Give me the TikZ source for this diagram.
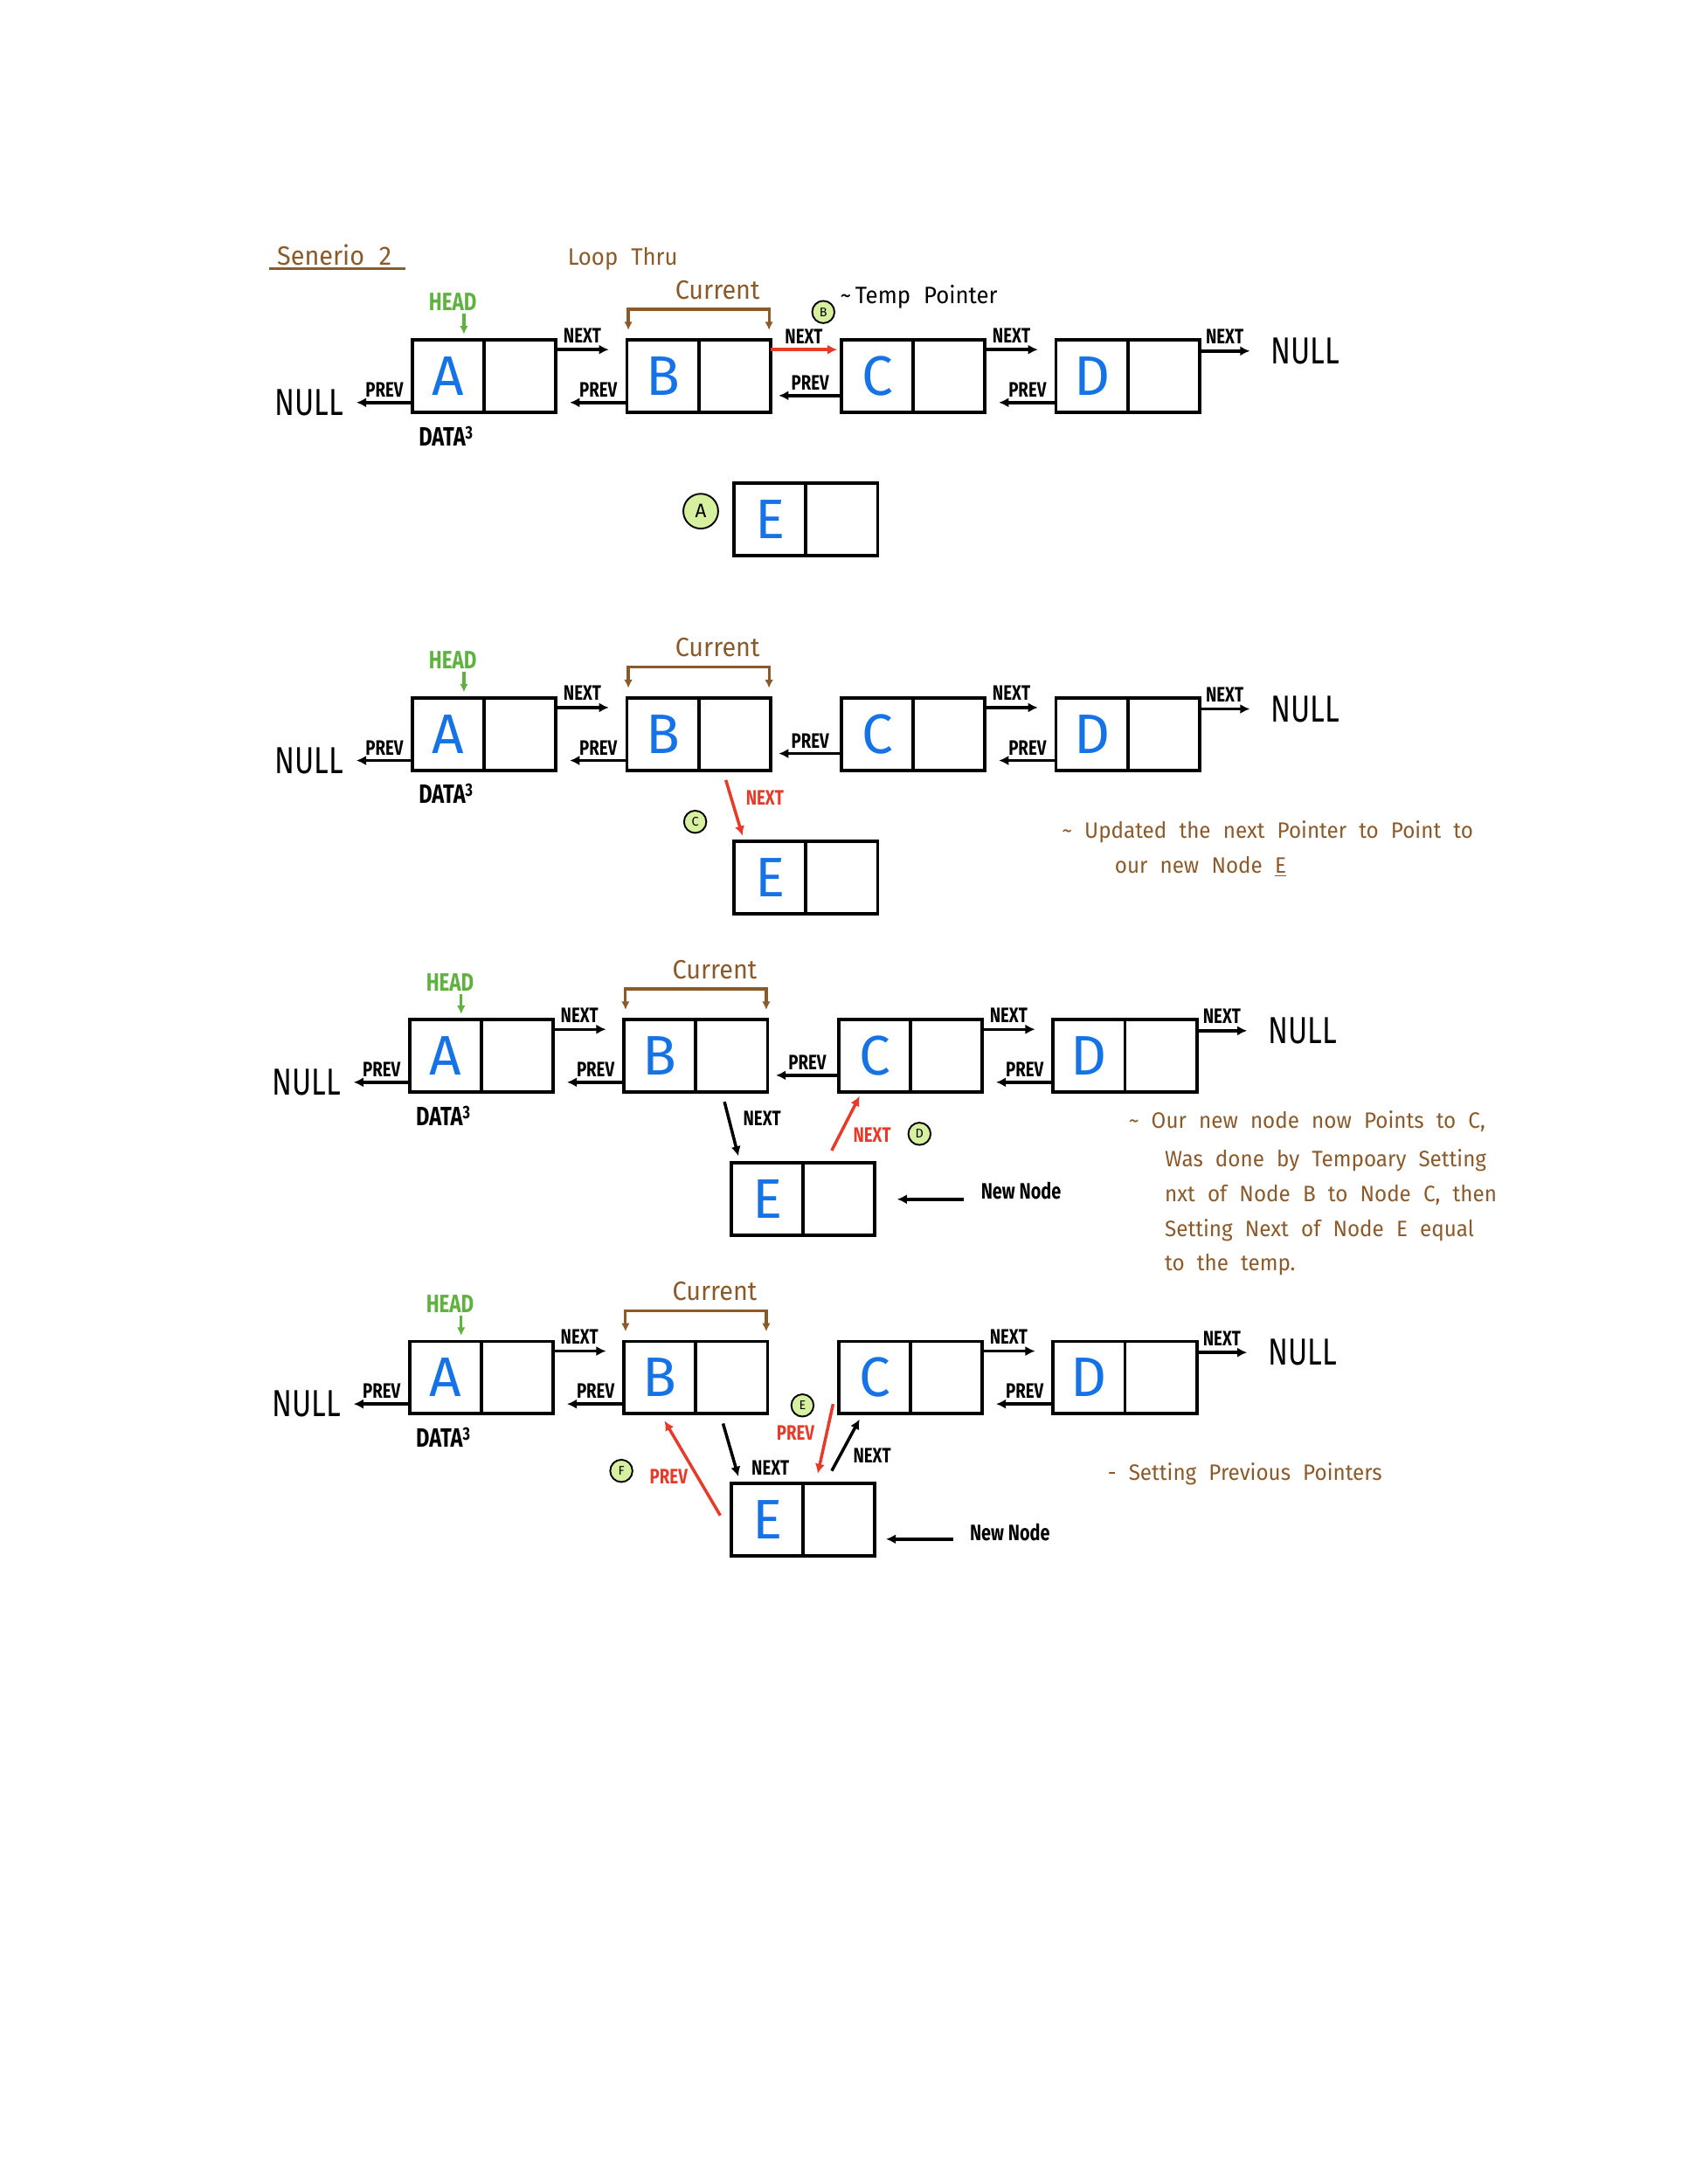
\documentclass[tikz,border=0pt]{standalone}
\usepackage{fontspec}
\setmainfont{Fira Sans}
\newfontfamily\labfont[FakeStretch=0.78]{Fira Sans}
\newfontfamily\handfont[FakeStretch=0.95,WordSpace=2.2]{Fira Sans}
\usetikzlibrary{arrows.meta}
\definecolor{brownink}{RGB}{139,90,43}
\definecolor{greenink}{RGB}{96,178,64}
\definecolor{blueink}{RGB}{22,115,230}
\definecolor{redink}{RGB}{232,58,40}
\definecolor{badge}{RGB}{214,240,160}
\tikzset{
 dcell/.style={draw, line width=2.4pt, minimum width=51.5pt, minimum height=52pt, outer sep=0pt, inner sep=0pt, anchor=north west, font=\fontsize{40}{40}\selectfont, text=blueink},
 pcell/.style={draw, line width=2.4pt, minimum width=51.5pt, minimum height=52pt, outer sep=0pt, inner sep=0pt, anchor=west},
 ptr/.style={line width=2.2pt, -{Latex[length=7pt,width=7pt]}},
 redptr/.style={ptr, draw=redink},
 lab/.style={font=\labfont\bfseries\fontsize{15}{15}\selectfont, inner sep=0pt},
 redlab/.style={lab, text=redink},
 nulltxt/.style={font=\labfont\fontsize{27}{27}\selectfont, inner sep=0pt},
 headlab/.style={font=\labfont\bfseries\fontsize{18}{18}\selectfont, text=greenink, inner sep=0pt},
 note/.style={font=\handfont\fontsize{16}{25}\selectfont, text=brownink, align=left, anchor=west, inner sep=0pt},
 brownlab/.style={font=\handfont\fontsize{19}{19}\selectfont, text=brownink, inner sep=0pt},
 badgecirc/.style={circle, draw, line width=1.2pt, fill=badge, minimum size=16pt, inner sep=0pt, font=\fontsize{9}{9}\selectfont},
 bracket/.style={draw=brownink, line width=2pt, {Latex[length=6pt,width=6pt]}-{Latex[length=6pt,width=6pt]}},
 headarr/.style={draw=greenink, line width=2pt, -{Latex[length=6pt,width=6pt]}},
 newlab/.style={lab, anchor=west, font=\labfont\bfseries\fontsize{16}{16}\selectfont}
}
\begin{document}
\begin{tikzpicture}[x=1pt,y=-1pt]
\useasboundingbox[fill=white] (0,0) rectangle (1212,1568);

% title
\node[brownlab] (title) at (240,183) {Senerio 2};
\draw[brownink, line width=2pt] (193,193) -- (291,193);
\node[brownlab, font=\handfont\fontsize{17}{17}\selectfont] (loop) at (447,186) {Loop Thru};

\foreach \r/\t/\dx in {1/244/0, 2/501/0, 3/732/-2, 4/963/-2} {
  \node[dcell] (A\r) at (296+\dx,\t) {A};
  \node[pcell] (An\r) at (A\r.east) {};
  \node[dcell] (B\r) at (450+\dx,\t) {B};
  \node[pcell] (Bn\r) at (B\r.east) {};
  \node[dcell] (C\r) at (604+\dx,\t) {C};
  \node[pcell] (Cn\r) at (C\r.east) {};
  \node[dcell] (D\r) at (758+\dx,\t) {D};
  \node[pcell] (Dn\r) at (D\r.east) {};
  \node[nulltxt] (nullL\r) at (222+\dx,\t+45) {NULL};
  \node[nulltxt] (nullR\r) at (937+\dx,\t+8) {NULL};
  % NEXT pointers
  \draw[ptr] ([shift={(0,7)}]An\r.north east) -- ([shift={(-13,7)}]B\r.north west) node[lab, midway, above=4pt] {NEXT};
  \draw[ptr] ([shift={(0,7)}]Cn\r.north east) -- ([shift={(-13,7)}]D\r.north west) node[lab, midway, above=4pt] {NEXT};
  \draw[ptr] ([shift={(0,8)}]Dn\r.north east) -- ([xshift=-15pt]nullR\r.west) node[lab, midway, above=4pt] {NEXT};
  % PREV pointers
  \draw[ptr] ([shift={(0,45)}]A\r.north west) -- ([xshift=9pt]nullL\r.east) node[lab, midway, above=3pt] {PREV};
  \draw[ptr] ([shift={(0,45)}]B\r.north west) -- ([shift={(10,45)}]An\r.north east) node[lab, midway, above=3pt] {PREV};
  \draw[ptr] ([shift={(0,45)}]D\r.north west) -- ([shift={(10,45)}]Cn\r.north east) node[lab, midway, above=3pt] {PREV};
  % HEAD
  \node[headlab] (head\r) at (325+\dx,\t-27) {HEAD};
  \draw[headarr] ([xshift=8pt,yshift=-2pt]head\r.south) -- ([shift={(37,-4)}]A\r.north west);
  % Current
  \node[brownlab] (cur\r) at (515+\dx,\t-36) {Current};
  \draw[bracket] ([shift={(1,-7)}]B\r.north west) -- ([shift={(1,-22)}]B\r.north west) -- ([shift={(-1,-22)}]Bn\r.north east) -- ([shift={(-1,-7)}]Bn\r.north east);
  % DATA
  \node[lab, font=\labfont\bfseries\fontsize{19}{19}\selectfont] (data\r) at (320+\dx,\t+69) {DATA\raisebox{5pt}{\fontsize{13}{13}\selectfont 3}};
}
% C prev pointers in rows 1-3
\foreach \r in {1,2,3} {
  \draw[ptr] ([shift={(0,40)}]C\r.north west) -- ([shift={(6,40)}]Bn\r.north east) node[lab, midway, above=3pt] {PREV};
}

% ---------- Row 1 ----------
\draw[redptr] ([shift={(0,7)}]Bn1.north east) -- ([shift={(-3,7)}]C1.north west) node[lab, midway, above=3pt] {NEXT};
\node[badgecirc] (b1) at (591,224) {B};
\node[anchor=west, inner sep=0pt, font=\handfont\fontsize{17}{17}\selectfont] (temp) at (603,213) {\textasciitilde{}\,Temp Pointer};
\node[dcell] (E1) at (527,347) {E};
\node[pcell] (En1) at (E1.east) {};
\node[badgecirc, minimum size=25pt, font=\fontsize{14}{14}\selectfont] (a1) at (503,367) {A};

% ---------- Row 2 ----------
\node[dcell] (E2) at (527,604) {E};
\node[pcell] (En2) at (E2.east) {};
\draw[redptr] ([shift={(19.5,7)}]Bn2.south west) -- ([shift={(6,-4)}]E2.north west);
\node[redlab] (n2) at (549,573) {NEXT};
\node[badgecirc] (c2) at (499,590) {C};
\node[note] (note2) at (762,597) {\textasciitilde{} Updated the next Pointer to Point to};
\node[note] (note2b) at (800,622) {our new Node \underline{E}};

% ---------- Row 3 ----------
\node[dcell] (E3) at (525,835) {E};
\node[pcell] (En3) at (E3.east) {};
\draw[ptr] ([shift={(20.5,7)}]Bn3.south west) -- ([shift={(5,-5)}]E3.north west);
\node[lab] (n3a) at (547,803) {NEXT};
\draw[redptr] ([shift={(20.5,-9)}]En3.north west) -- ([shift={(15,3)}]C3.south west);
\node[redlab] (n3b) at (626,815) {NEXT};
\node[badgecirc] (d3) at (660,814) {D};
\coordinate (nn3) at (692,861);
\draw[ptr] (nn3) -- ([xshift=16pt]En3.east);
\node[newlab] (newn3) at (704,855) {New Node};
\node[note] (note3a) at (810,805) {\textasciitilde{} Our new node now Points to C,};
\node[note] (note3b) at (836,833) {Was done by Tempoary Setting};
\node[note] (note3c) at (836,858) {nxt of Node B to Node C, then};
\node[note] (note3d) at (836,883) {Setting Next of Node E equal};
\node[note] (note3e) at (836,908) {to the temp.};

% ---------- Row 4 ----------
\node[dcell] (E4) at (525,1065) {E};
\node[pcell] (En4) at (E4.east) {};
\draw[ptr] ([shift={(19.5,7)}]Bn4.south west) -- ([shift={(5,-5)}]E4.north west);
\node[lab] (n4a) at (553,1054) {NEXT};
\draw[redptr] ([shift={(-4,-7)}]C4.south west) -- ([shift={(10.5,-7)}]En4.north west);
\node[redlab] (p4a) at (571,1029) {PREV};
\node[badgecirc] (e4) at (576,1009) {E};
\draw[ptr] ([shift={(20.5,-9)}]En4.north west) -- ([shift={(15,4)}]C4.south west);
\node[lab] (n4b) at (626,1045) {NEXT};
\draw[redptr] ([shift={(-8,23)}]E4.north west) -- ([shift={(29,5)}]B4.south west);
\node[redlab] (p4b) at (480,1060) {PREV};
\node[badgecirc] (f4) at (446,1056) {F};
\coordinate (nn4) at (684,1105);
\draw[ptr] (nn4) -- ([shift={(8,14)}]En4.east);
\node[newlab] (newn4) at (696,1100) {New Node};
\node[note] (note4) at (795,1058) {- Setting Previous Pointers};
\end{tikzpicture}
\end{document}
